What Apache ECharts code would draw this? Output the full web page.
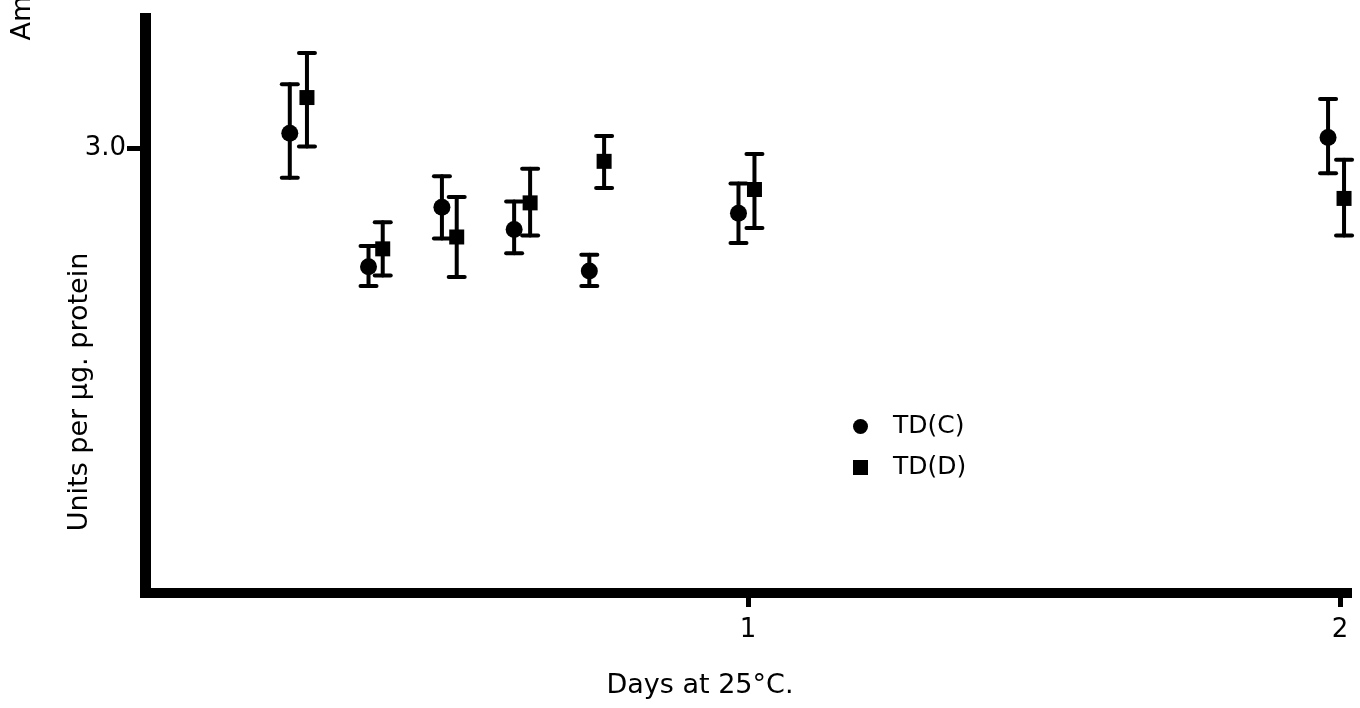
<!DOCTYPE html>
<html><head><meta charset="utf-8">
<script src="https://cdn.jsdelivr.net/npm/echarts@6/dist/echarts.min.js"></script>
<style>html,body{margin:0;padding:0;background:#fff}#c{width:1360px;height:708px}</style>
</head><body><div id="c"></div>
<script>
const seriesNames = ['TD(C)', 'TD(D)'];
const daysC = [0.226, 0.359, 0.483, 0.605, 0.732, 0.984, 1.980];
const meanC = [3.10, 2.20, 2.60, 2.45, 2.17, 2.56, 3.07];
const lowC  = [2.80, 2.07, 2.39, 2.29, 2.07, 2.36, 2.83];
const highC = [3.43, 2.34, 2.81, 2.64, 2.28, 2.76, 3.33];
const daysD = [0.255, 0.383, 0.508, 0.632, 0.757, 1.011, 2.007];
const meanD = [3.34, 2.32, 2.40, 2.63, 2.91, 2.72, 2.66];
const lowD  = [3.01, 2.14, 2.13, 2.41, 2.73, 2.46, 2.41];
const highD = [3.64, 2.50, 2.67, 2.86, 3.08, 2.96, 2.92];
const xTickValues = [1, 2];
const yTickValues = [3.0];
const xTitle = 'Days at 25°C.';
const yTitle = 'Units per µg. protein';
const topTitle = 'Am';

const FONT = '"DejaVu Sans", Lato, sans-serif';

function renderErr(params, api) {
  const x = api.value(0), lo = api.value(1), hi = api.value(2);
  const pLo = api.coord([x, lo]), pHi = api.coord([x, hi]);
  const hw = 8;
  const style = { stroke: '#000', lineWidth: 4, lineCap: 'round' };
  return {
    type: 'group',
    children: [
      { type: 'line', shape: { x1: pLo[0], y1: pLo[1], x2: pHi[0], y2: pHi[1] }, style: style },
      { type: 'line', shape: { x1: pLo[0] - hw, y1: pLo[1], x2: pLo[0] + hw, y2: pLo[1] }, style: style },
      { type: 'line', shape: { x1: pHi[0] - hw, y1: pHi[1], x2: pHi[0] + hw, y2: pHi[1] }, style: style }
    ]
  };
}

const chart = echarts.init(document.getElementById('c'), null, { renderer: 'canvas' });
chart.setOption({
  backgroundColor: '#fff',
  animation: false,
  grid: { left: 145, top: 13, width: 1202, height: 580, containLabel: false },
  legend: {
    left: 848, top: 409, orient: 'vertical', itemGap: 16,
    itemWidth: 15, itemHeight: 15,
    textStyle: { fontSize: 25, fontFamily: FONT, color: '#000', padding: [0, 0, 0, 20] },
    data: [{ name: seriesNames[0], icon: 'circle' }, { name: seriesNames[1], icon: 'rect', itemStyle: { color: '#000' } }],
    selectedMode: false
  },
  xAxis: {
    type: 'value', min: -0.0186, max: 2.012,
    splitLine: { show: false },
    axisLine: { onZero: false, lineStyle: { color: '#000', width: 10, cap: 'square' } },
    axisTick: { show: true, customValues: xTickValues, length: 14, lineStyle: { color: '#000', width: 5 } },
    axisLabel: { customValues: xTickValues, fontSize: 26, fontFamily: FONT, color: '#000', margin: 24, formatter: v => String(Math.round(v)) }
  },
  yAxis: {
    type: 'value', min: 0, max: 3.91,
    splitLine: { show: false },
    axisLine: { onZero: false, lineStyle: { color: '#000', width: 11, cap: 'butt' } },
    axisTick: { show: true, customValues: yTickValues, length: 18, lineStyle: { color: '#000', width: 5 } },
    axisLabel: { customValues: yTickValues, fontSize: 26, fontFamily: FONT, color: '#000', margin: 19, formatter: v => v.toFixed(1) }
  },
  graphic: [
    { type: 'text', x: 700, y: 686, style: { text: xTitle, font: '27px ' + FONT, fill: '#000', textAlign: 'center', textVerticalAlign: 'middle' } },
    { type: 'text', x: 80, y: 392, rotation: Math.PI / 2, style: { text: yTitle, font: '27px ' + FONT, fill: '#000', textAlign: 'center', textVerticalAlign: 'middle' } },
    { type: 'text', x: 23, y: 18, rotation: Math.PI / 2, style: { text: topTitle, font: '27px ' + FONT, fill: '#000', textAlign: 'center', textVerticalAlign: 'middle' } }
  ],
  series: [
    { name: seriesNames[0] + ' err', type: 'custom', renderItem: renderErr, clip: false, silent: true,
      data: daysC.map((d, i) => [d, lowC[i], highC[i]]) },
    { name: seriesNames[1] + ' err', type: 'custom', renderItem: renderErr, clip: false, silent: true,
      data: daysD.map((d, i) => [d, lowD[i], highD[i]]) },
    { name: seriesNames[0], type: 'scatter', symbol: 'circle', symbolSize: 17, itemStyle: { color: '#000', opacity: 1 },
      data: daysC.map((d, i) => [d, meanC[i]]), clip: false },
    { name: seriesNames[1], type: 'scatter', symbol: 'rect', symbolSize: [15, 15], itemStyle: { color: '#000', opacity: 1 },
      data: daysD.map((d, i) => [d, meanD[i]]), clip: false }
  ]
});
</script></body></html>
